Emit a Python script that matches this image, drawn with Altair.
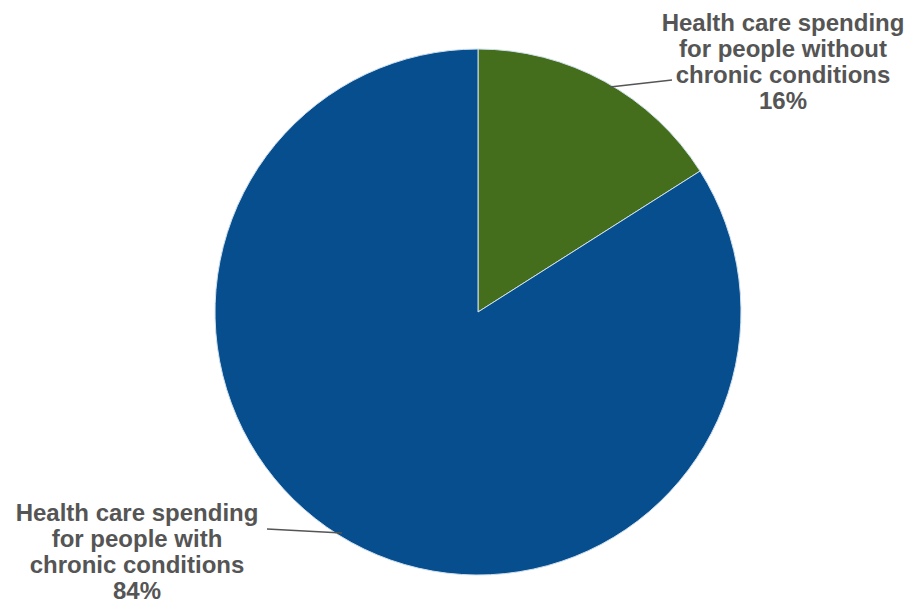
import altair as alt
import pandas as pd

categories = ["Health care spending for people without chronic conditions",
              "Health care spending for people with chronic conditions"]
shares = [16, 84]
colors = ["#446E1B", "#074E8F"]
label_top = ["Health care spending", "for people without", "chronic conditions", "16%"]
label_bot = ["Health care spending", "for people with", "chronic conditions", "84%"]

df = pd.DataFrame({"category": categories, "share": shares, "order": [0, 1]})

W, H = 896, 597
CX, CY = 470, 304
R = 263

pie = alt.Chart(df).mark_arc(stroke="#cfe0ee", strokeWidth=1, radius=R).encode(
    theta=alt.Theta("share:Q", stack=True),
    order=alt.Order("order:Q"),
    color=alt.Color("category:N", scale=alt.Scale(domain=categories, range=colors), legend=None),
    x=alt.value(CX), y=alt.value(CY),
)

text_style = dict(align="center", baseline="top", font="Liberation Sans", fontWeight="bold",
                  fontSize=24, lineHeight=26, color="#555555", lineBreak="\n")

top_text = alt.Chart(pd.DataFrame({"t": ["\n".join(label_top)]})).mark_text(**text_style).encode(
    text="t:N", x=alt.value(775), y=alt.value(4))

bot_text = alt.Chart(pd.DataFrame({"t": ["\n".join(label_bot)]})).mark_text(**text_style).encode(
    text="t:N", x=alt.value(129), y=alt.value(494))

lead_df = pd.DataFrame({"k": [0]})
lead_top = alt.Chart(lead_df).mark_rule(color="#555555", strokeWidth=1.5).encode(
    x=alt.value(602), y=alt.value(79), x2=alt.value(664), y2=alt.value(72))
lead_bot = alt.Chart(lead_df).mark_rule(color="#555555", strokeWidth=1.5).encode(
    x=alt.value(259), y=alt.value(521), x2=alt.value(334), y2=alt.value(525))

chart = alt.layer(pie, lead_top, lead_bot, top_text, bot_text).properties(
    width=W, height=H, padding=0, autosize=alt.AutoSizeParams(type="none")
).configure_view(stroke=None)

chart.save("out.html", embed_options={"renderer": "svg", "actions": False})
